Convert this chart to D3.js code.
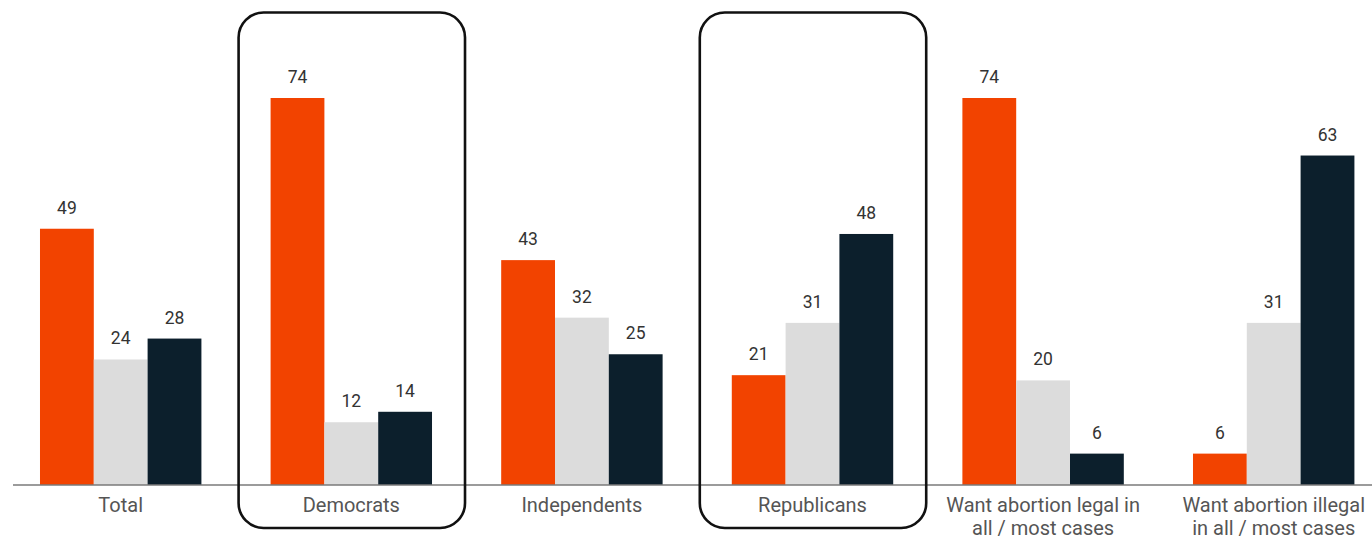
<!DOCTYPE html>
<html>
<head>
<meta charset="utf-8">
<script src="https://cdn.jsdelivr.net/npm/d3@7"></script>
<style>
  html, body { margin: 0; padding: 0; background: #ffffff; }
  svg { display: block; }
</style>
</head>
<body>
<div id="chart"></div>
<script>
// Groups along the x axis (multi-line labels split on "\n")
const categories = [
  "Total",
  "Democrats",
  "Independents",
  "Republicans",
  "Want abortion legal in\nall / most cases",
  "Want abortion illegal\nin all / most cases"
];
const series = ["first", "second", "third"];
const firstValues  = [49, 74, 43, 21, 74, 6];
const secondValues = [24, 12, 32, 31, 20, 31];
const thirdValues  = [28, 14, 25, 48, 6, 63];
// Groups outlined with a rounded frame
const highlighted = ["Democrats", "Republicans"];

const colors = { first: "#f24300", second: "#dcdcdc", third: "#0c1f2c" };

const width = 1372, height = 539;
const baseY = 485;

const svg = d3.select("#chart").append("svg")
  .attr("width", width).attr("height", height);

const x = d3.scaleBand()
  .domain(categories)
  .range([5.4, 1389])
  .paddingInner(0.3)
  .paddingOuter(0.15);

const xs = d3.scaleBand()
  .domain(series)
  .range([0, x.bandwidth()]);

const y = d3.scaleLinear()
  .domain([0, 74])
  .range([baseY, 98]);

const valuesBySeries = { first: firstValues, second: secondValues, third: thirdValues };
const rows = categories.map((c, i) => ({
  category: c,
  values: series.map(s => ({ key: s, value: valuesBySeries[s][i] }))
}));

// Bars
const groups = svg.append("g").selectAll("g")
  .data(rows).join("g")
  .attr("transform", d => `translate(${x(d.category)},0)`);

groups.selectAll("rect")
  .data(d => d.values).join("rect")
  .attr("x", d => xs(d.key))
  .attr("y", d => y(d.value))
  .attr("width", xs.bandwidth())
  .attr("height", d => y(0) - y(d.value))
  .attr("fill", d => colors[d.key]);

// Value labels
groups.selectAll("text.value")
  .data(d => d.values).join("text")
  .attr("class", "value")
  .attr("x", d => xs(d.key) + xs.bandwidth() / 2)
  .attr("y", d => y(d.value) - 15)
  .attr("text-anchor", "middle")
  .attr("font-family", "Roboto, 'Noto Sans', sans-serif")
  .attr("font-size", 17.5)
  .attr("fill", "#333333")
  .text(d => d.value);

// Baseline axis with category labels
const axis = svg.append("g")
  .attr("transform", `translate(0,${baseY})`)
  .call(d3.axisBottom(x).tickSize(0).tickFormat(""));
axis.select(".domain").remove();
axis.append("line")
  .attr("x1", 13).attr("x2", width)
  .attr("y1", 0).attr("y2", 0)
  .attr("stroke", "#7a7a7a")
  .attr("stroke-width", 1.6);

axis.selectAll(".tick").each(function(d) {
  const t = d3.select(this).append("text")
    .attr("text-anchor", "middle")
    .attr("font-family", "Roboto, 'Noto Sans', sans-serif")
    .attr("font-size", 20)
    .attr("fill", "#555555");
  d.split("\n").forEach((line, i) => {
    t.append("tspan")
      .attr("x", 0)
      .attr("y", 27 + i * 23)
      .text(line);
  });
});

// Rounded frames around highlighted groups
svg.append("g").selectAll("rect")
  .data(highlighted).join("rect")
  .attr("x", d => x(d) - 32)
  .attr("y", 12.5)
  .attr("width", x.bandwidth() + 65)
  .attr("height", 515.5)
  .attr("rx", 25).attr("ry", 25)
  .attr("fill", "none")
  .attr("stroke", "#111111")
  .attr("stroke-width", 2.6);
</script>
</body>
</html>
